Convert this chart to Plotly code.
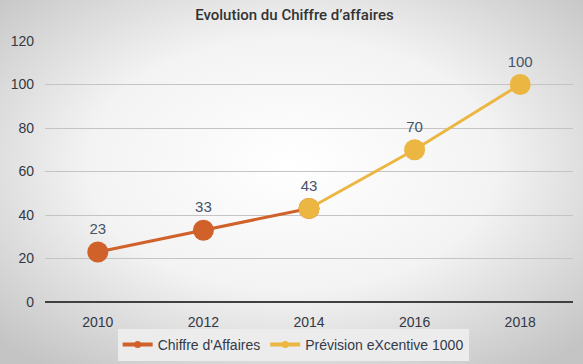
import plotly.graph_objects as go
import base64

years_ca = ["2010", "2012", "2014"]
values_ca = [23, 33, 43]
years_prev = ["2014", "2016", "2018"]
values_prev = [43, 70, 100]
all_years = ["2010", "2012", "2014", "2016", "2018"]

orange = "#d0612b"
yellow = "#ebb642"
label_color = "#44546a"

fig = go.Figure()
fig.add_trace(go.Scatter(
    x=years_ca, y=values_ca, mode="lines+markers+text", name="Chiffre d'Affaires",
    line=dict(color=orange, width=3), marker=dict(color=orange, size=21), showlegend=False,
    text=[str(v) for v in values_ca[:-1]] + [""], textposition="top center",
    textfont=dict(color=label_color, size=15, family="Liberation Sans"),
))
fig.add_trace(go.Scatter(
    x=years_prev, y=values_prev, mode="lines+markers+text", name="Prévision eXcentive 1000",
    line=dict(color=yellow, width=3), marker=dict(color=yellow, size=21), showlegend=False,
    text=[str(v) for v in values_prev], textposition="top center",
    textfont=dict(color=label_color, size=15, family="Liberation Sans"),
))
# legend entries
fig.add_trace(go.Scatter(x=[None], y=[None], mode="lines+markers", name="Chiffre d'Affaires",
                         line=dict(color=orange, width=4), marker=dict(color=orange, size=7)))
fig.add_trace(go.Scatter(x=[None], y=[None], mode="lines+markers", name="Prévision eXcentive 1000",
                         line=dict(color=yellow, width=4), marker=dict(color=yellow, size=7)))

svg = ('<svg xmlns="http://www.w3.org/2000/svg" width="583" height="364" preserveAspectRatio="none">'
       '<defs><radialGradient id="g" cx="50%" cy="45%" r="70%">'
       '<stop offset="0%" stop-color="#ffffff"/><stop offset="50%" stop-color="#f3f3f3"/>'
       '<stop offset="100%" stop-color="#c4c4c4"/></radialGradient></defs>'
       '<rect width="583" height="364" fill="url(#g)"/></svg>')
src = "data:image/svg+xml;base64," + base64.b64encode(svg.encode()).decode()

fig.update_layout(
    width=583, height=364,
    margin=dict(l=45, r=10, t=41, b=62, autoexpand=False),
    paper_bgcolor="#ececec", plot_bgcolor="rgba(0,0,0,0)",
    images=[dict(source=src, xref="paper", yref="paper", x=-45/528, y=1 + 41/261,
                 sizex=583/528, sizey=364/261, sizing="stretch", layer="below",
                 xanchor="left", yanchor="top")],
    title=dict(text="Evolution du Chiffre d’affaires", x=0.505, xanchor="center",
               yref="container", y=1 - 15/364, yanchor="middle",
               font=dict(family="Roboto", size=15, color="#333333", weight=500)),
    showlegend=True,
    legend=dict(orientation="h", x=0.47, xanchor="center", yref="container", y=1 - 345/364,
                yanchor="middle",
                bgcolor="#ececec", font=dict(family="Liberation Sans", size=14, color="#333a4a"),
                itemwidth=30, traceorder="normal"),
    xaxis=dict(type="category", categoryorder="array", categoryarray=all_years,
               range=[-0.5, 4.5], showgrid=False, showline=False, zeroline=False, automargin=False,
               ticks="", ticklabelstandoff=10,
               tickfont=dict(family="Liberation Sans", size=14, color="#333845")),
    yaxis=dict(range=[0, 120], dtick=20, showgrid=True, gridcolor="#c4c4c4", gridwidth=1,
               zeroline=True, zerolinecolor="#404040", zerolinewidth=2, showline=False,
               automargin=False, ticks="", ticklabelstandoff=10,
               tickfont=dict(family="Liberation Sans", size=14, color="#333845")),
)

fig.write_html("out.html", config={"displayModeBar": False},
               post_script="document.body.style.margin='0';document.body.style.padding='0';")
